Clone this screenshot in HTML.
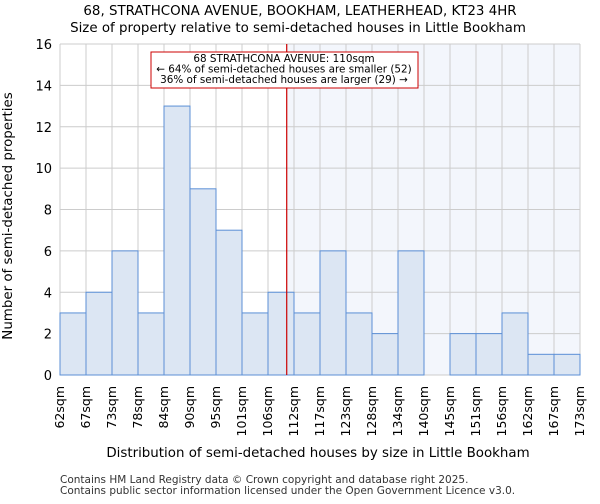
<!DOCTYPE html>
<html><head><meta charset="utf-8"><style>
body{margin:0;background:#fff;font-family:"DejaVu Sans","Liberation Sans",sans-serif}
</style></head><body>
<svg width="600" height="500" xmlns="http://www.w3.org/2000/svg" font-family="DejaVu Sans, Liberation Sans, sans-serif">
<text x="300" y="15" text-anchor="middle" font-size="13.4">68, STRATHCONA AVENUE, BOOKHAM, LEATHERHEAD, KT23 4HR</text>
<text x="298" y="32" text-anchor="middle" font-size="13.4">Size of property relative to semi-detached houses in Little Bookham</text>
<g id="plot"></g>
<text x="318" y="457" text-anchor="middle" font-size="13.4">Distribution of semi-detached houses by size in Little Bookham</text>
<text transform="translate(12,216) rotate(-90)" text-anchor="middle" font-size="13.4">Number of semi-detached properties</text>
<text x="60" y="483" font-size="10.5" fill="#333">Contains HM Land Registry data © Crown copyright and database right 2025.</text>
<text x="60" y="494" font-size="10.5" fill="#333">Contains public sector information licensed under the Open Government Licence v3.0.</text>
</svg>
<script>
const edgeLabels=["62sqm","67sqm","73sqm","78sqm","84sqm","90sqm","95sqm","101sqm","106sqm","112sqm","117sqm","123sqm","128sqm","134sqm","140sqm","145sqm","151sqm","156sqm","162sqm","167sqm","173sqm"];
const counts=[3,4,6,3,13,9,7,3,4,3,6,3,2,6,0,2,2,3,1,1];
const yTicks=[0,2,4,6,8,10,12,14,16];
const markerBin=8.72;
const NS="http://www.w3.org/2000/svg";
const g=document.getElementById('plot');
const L=60,R=580,T=44,B=375,yMax=16;
const bw=(R-L)/counts.length;
const xs=i=>L+i*bw;
const ys=v=>B-(v/yMax)*(B-T);
function mk(t,a){const e=document.createElementNS(NS,t);for(const k in a)e.setAttribute(k,a[k]);g.appendChild(e);return e;}
const mx=xs(markerBin);
let sh=mk('rect',{x:mx,y:T,width:R-mx,height:B-T,fill:'#f3f6fc'});


yTicks.forEach(v=>{let l=mk('line',{x1:L,x2:R,y1:ys(v),y2:ys(v),stroke:'#ccc'});


let t=mk('text',{x:L-8,y:ys(v)+5,'text-anchor':'end','font-size':13});t.textContent=v;

});
edgeLabels.forEach((s,i)=>{let l=mk('line',{x1:xs(i),x2:xs(i),y1:T,y2:B,stroke:'#ccc'});


let t=mk('text',{transform:`translate(${xs(i)+4},386) rotate(-90)`,'text-anchor':'end','font-size':12.5});t.textContent=s;

});
counts.forEach((c,i)=>{if(!c)return;let r=mk('rect',{x:xs(i),y:ys(c),width:bw,height:B-ys(c),fill:'#dce6f3',stroke:'#5b8fd6','stroke-width':1});

});
let ml=mk('line',{x1:mx,x2:mx,y1:T,y2:B,stroke:'#cc0000','stroke-width':1.2});


let box=mk('rect',{x:151,y:52,width:267,height:36,fill:'#fff',stroke:'#cc0000'});


["68 STRATHCONA AVENUE: 110sqm","← 64% of semi-detached houses are smaller (52)","36% of semi-detached houses are larger (29) →"].forEach((s,i)=>{
let t=mk('text',{x:284,y:62+i*10.5,'text-anchor':'middle','font-size':10.4});t.textContent=s;

});
</script>
</body></html>
